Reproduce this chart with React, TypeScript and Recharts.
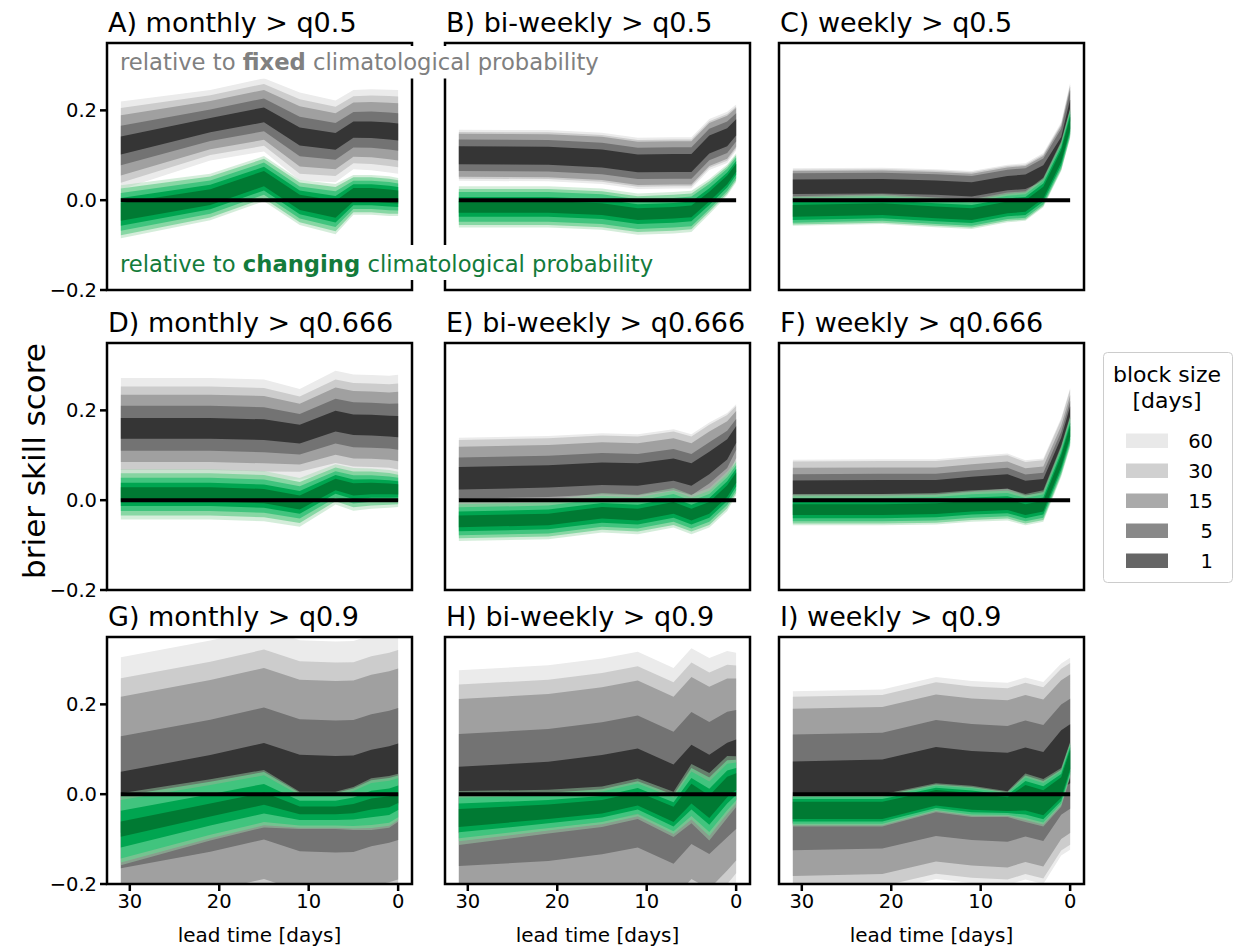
import React from 'react';
import { ComposedChart, Area, XAxis, YAxis, ReferenceLine } from 'recharts';

// lead times shared by all panels (days before the event)
const LEADS = [31, 21, 15, 11, 7, 5, 3, 1, 0];
const BLOCK_SIZES = [60, 30, 15, 5, 1];
const X_TICKS = [30, 20, 10, 0];
const Y_TICKS = [-0.2, 0, 0.2];

const GREY_FILLS = ['#ebebeb', '#cccccc', '#a0a0a0', '#737373', '#353535'];
const GREEN_FILLS = ['#9fd8ac', '#6fcf92', '#41c47e', '#00a550', '#007a33'];
const GREEN_OPACITY = [0.45, 0.75, 1, 1, 1];
const LEGEND_FILLS = ['#e9e9e9', '#d0d0d0', '#aaaaaa', '#898989', '#666666'];

const TITLES = [
  'A) monthly > q0.5', 'B) bi-weekly > q0.5', 'C) weekly > q0.5',
  'D) monthly > q0.666', 'E) bi-weekly > q0.666', 'F) weekly > q0.666',
  'G) monthly > q0.9', 'H) bi-weekly > q0.9', 'I) weekly > q0.9',
];

// centre of each band per lead, half widths per block size (60,30,15,5,1), and width factor per lead
const A_GREY_MID = [0.122, 0.167, 0.19, 0.142, 0.131, 0.157, 0.157, 0.154, 0.152];
const A_GREY_HALF = [0.098, 0.083, 0.067, 0.044, 0.02];
const A_GREY_SPREAD = [1, 0.8, 0.83, 1, 0.93, 0.9, 0.92, 0.94, 0.95];
const A_GREEN_MID = [-0.026, 0.007, 0.048, -0.005, -0.02, 0.012, 0.012, 0.009, 0.007];
const A_GREEN_HALF = [0.059, 0.052, 0.042, 0.031, 0.02];
const A_GREEN_SPREAD = [1, 0.88, 0.85, 0.85, 0.95, 0.75, 0.75, 0.75, 0.72];

const B_GREY_MID = [0.1, 0.099, 0.093, 0.082, 0.083, 0.083, 0.124, 0.14, 0.162];
const B_GREY_HALF = [0.057, 0.052, 0.048, 0.035, 0.02];
const B_GREY_SPREAD = [1, 1, 1, 1, 1, 1, 1, 1, 0.9];
const B_GREEN_MID = [-0.015, -0.015, -0.02, -0.031, -0.028, -0.025, 0.008, 0.045, 0.072];
const B_GREEN_HALF = [0.046, 0.04, 0.033, 0.022, 0.013];
const B_GREEN_SPREAD = [1, 1, 1, 1, 1, 1, 0.85, 0.75, 0.7];

const C_GREY_MID = [0.03, 0.031, 0.028, 0.024, 0.038, 0.041, 0.06, 0.12, 0.2];
const C_GREY_HALF = [0.041, 0.038, 0.035, 0.03, 0.016];
const C_GREY_SPREAD = [1, 1, 1, 1, 1, 1, 1.1, 1.3, 1.5];
const C_GREEN_MID = [-0.024, -0.02, -0.027, -0.031, -0.016, -0.013, 0.017, 0.098, 0.172];
const C_GREEN_HALF = [0.033, 0.03, 0.026, 0.02, 0.013];
const C_GREEN_SPREAD = [1, 1, 1, 1, 1, 1, 1, 1, 1];

const D_GREY_MID = [0.16, 0.16, 0.157, 0.147, 0.176, 0.168, 0.167, 0.165, 0.164];
const D_GREY_HALF = [0.112, 0.093, 0.075, 0.05, 0.023];
const D_GREY_SPREAD = [1, 1, 1, 0.9, 1, 1, 1, 1, 1.03];
const D_GREEN_MID = [0.013, 0.013, 0.009, -0.005, 0.035, 0.024, 0.026, 0.025, 0.024];
const D_GREEN_HALF = [0.056, 0.047, 0.037, 0.026, 0.016];
const D_GREEN_SPREAD = [1, 1, 1, 0.97, 0.8, 0.85, 0.8, 0.75, 0.7];

const E_GREY_MID = [0.049, 0.053, 0.059, 0.057, 0.068, 0.057, 0.083, 0.113, 0.146];
const E_GREY_HALF = [0.09, 0.085, 0.07, 0.046, 0.025];
const E_GREY_SPREAD = [1, 1, 1, 1, 1, 1, 1, 0.9, 0.75];
const E_GREEN_MID = [-0.047, -0.043, -0.028, -0.032, -0.017, -0.032, -0.017, 0.02, 0.05];
const E_GREEN_HALF = [0.044, 0.038, 0.031, 0.022, 0.013];
const E_GREEN_SPREAD = [1, 1, 1, 1, 1, 1, 1, 1, 0.9];

const F_GREY_MID = [0.028, 0.029, 0.029, 0.036, 0.042, 0.027, 0.031, 0.124, 0.194];
const F_GREY_HALF = [0.062, 0.058, 0.044, 0.03, 0.016];
const F_GREY_SPREAD = [1, 1, 1, 1, 1, 1, 1, 0.95, 0.9];
const F_GREEN_MID = [-0.021, -0.021, -0.019, -0.013, -0.01, -0.021, -0.013, 0.087, 0.153];
const F_GREEN_HALF = [0.035, 0.031, 0.026, 0.019, 0.012];
const F_GREEN_SPREAD = [1, 1, 1, 1, 1, 1, 1, 1, 1];

const G_GREY_MID = [-0.018, 0.019, 0.046, 0.02, 0.017, 0.018, 0.031, 0.039, 0.045];
const G_GREY_HALF = [0.323, 0.276, 0.235, 0.147, 0.068];
const G_GREY_SPREAD = [1, 1, 1, 1, 1, 1, 1, 1, 1];
const G_GREEN_MID = [-0.078, -0.035, -0.01, -0.036, -0.036, -0.032, -0.022, -0.017, -0.008];
const G_GREEN_HALF = [0.08, 0.074, 0.065, 0.041, 0.017];
const G_GREEN_SPREAD = [1, 0.85, 0.8, 0.52, 0.52, 0.6, 0.72, 0.72, 0.67];

const H_GREY_MID = [-0.013, -0.002, 0.013, 0.028, -0.008, 0.036, 0.014, 0.044, 0.055];
const H_GREY_HALF = [0.289, 0.257, 0.225, 0.147, 0.074];
const H_GREY_SPREAD = [1, 1, 1, 1, 1, 1, 1, 0.95, 0.9];
const H_GREEN_MID = [-0.053, -0.039, -0.028, -0.01, -0.045, 0.001, -0.028, 0.016, 0.028];
const H_GREEN_HALF = [0.06, 0.052, 0.045, 0.032, 0.02];
const H_GREEN_SPREAD = [1, 0.81, 0.75, 0.75, 0.84, 1.1, 1.25, 1.15, 0.94];

const I_GREY_MID = [0.004, 0.008, 0.036, 0.027, 0.023, 0.035, 0.025, 0.077, 0.09];
const I_GREY_HALF = [0.225, 0.213, 0.186, 0.129, 0.069];
const I_GREY_SPREAD = [1, 1, 1, 1, 1, 1, 1, 0.95, 0.95];
const I_GREEN_MID = [-0.036, -0.036, -0.008, -0.016, -0.022, -0.008, -0.019, 0.015, 0.077];
const I_GREEN_HALF = [0.036, 0.033, 0.03, 0.025, 0.019];
const I_GREEN_SPREAD = [1, 1, 0.9, 0.97, 0.8, 1.5, 1.47, 1.2, 1.1];

const PANELS = [
  { greyMid: A_GREY_MID, greyHalf: A_GREY_HALF, greySpread: A_GREY_SPREAD, greenMid: A_GREEN_MID, greenHalf: A_GREEN_HALF, greenSpread: A_GREEN_SPREAD },
  { greyMid: B_GREY_MID, greyHalf: B_GREY_HALF, greySpread: B_GREY_SPREAD, greenMid: B_GREEN_MID, greenHalf: B_GREEN_HALF, greenSpread: B_GREEN_SPREAD },
  { greyMid: C_GREY_MID, greyHalf: C_GREY_HALF, greySpread: C_GREY_SPREAD, greenMid: C_GREEN_MID, greenHalf: C_GREEN_HALF, greenSpread: C_GREEN_SPREAD },
  { greyMid: D_GREY_MID, greyHalf: D_GREY_HALF, greySpread: D_GREY_SPREAD, greenMid: D_GREEN_MID, greenHalf: D_GREEN_HALF, greenSpread: D_GREEN_SPREAD },
  { greyMid: E_GREY_MID, greyHalf: E_GREY_HALF, greySpread: E_GREY_SPREAD, greenMid: E_GREEN_MID, greenHalf: E_GREEN_HALF, greenSpread: E_GREEN_SPREAD },
  { greyMid: F_GREY_MID, greyHalf: F_GREY_HALF, greySpread: F_GREY_SPREAD, greenMid: F_GREEN_MID, greenHalf: F_GREEN_HALF, greenSpread: F_GREEN_SPREAD },
  { greyMid: G_GREY_MID, greyHalf: G_GREY_HALF, greySpread: G_GREY_SPREAD, greenMid: G_GREEN_MID, greenHalf: G_GREEN_HALF, greenSpread: G_GREEN_SPREAD },
  { greyMid: H_GREY_MID, greyHalf: H_GREY_HALF, greySpread: H_GREY_SPREAD, greenMid: H_GREEN_MID, greenHalf: H_GREEN_HALF, greenSpread: H_GREEN_SPREAD },
  { greyMid: I_GREY_MID, greyHalf: I_GREY_HALF, greySpread: I_GREY_SPREAD, greenMid: I_GREEN_MID, greenHalf: I_GREEN_HALF, greenSpread: I_GREEN_SPREAD },
];

// layout (px)
const COL_X = [107, 445, 779];
const ROW_Y = [43, 343, 637];
const PLOT_W = 305;
const PLOT_H = 247;
const Y_AXIS_W = 60;
const X_AXIS_H = 40;
const M_TOP = 4;
const M_RIGHT = 4;
const FONT = '"DejaVu Sans", sans-serif';

type PanelData = typeof PANELS[number];

function buildRows(p: PanelData) {
  return LEADS.map((lead, i) => {
    const row: Record<string, any> = { lead };
    BLOCK_SIZES.forEach((_, k) => {
      const gh = p.greyHalf[k] * p.greySpread[i];
      row['g' + k] = [p.greyMid[i] - gh, p.greyMid[i] + gh];
      const nh = p.greenHalf[k] * p.greenSpread[i];
      row['n' + k] = [p.greenMid[i] - nh, p.greenMid[i] + nh];
    });
    return row;
  });
}

const fmtY = (v: number) => v.toFixed(1).replace('-', '\u2212');
const tickStyle = { fill: '#000', fontSize: 19.5, fontFamily: FONT };
const tickLineStyle = { stroke: '#000', strokeWidth: 2.5 };

function Panel({ p, idx }: { p: PanelData; idx: number }) {
  const row = Math.floor(idx / 3);
  const col = idx % 3;
  const data = buildRows(p);
  return (
    <div style={{ position: 'absolute', left: COL_X[col] - Y_AXIS_W, top: ROW_Y[row] - M_TOP }}>
      <ComposedChart
        width={PLOT_W + Y_AXIS_W + M_RIGHT}
        height={PLOT_H + M_TOP + X_AXIS_H}
        data={data}
        margin={{ top: M_TOP, right: M_RIGHT, bottom: 0, left: 0 }}
      >
        <XAxis
          dataKey="lead"
          type="number"
          domain={[-1.55, 32.55]}
          reversed
          allowDataOverflow
          ticks={X_TICKS}
          interval={0}
          height={X_AXIS_H}
          axisLine={false}
          tickLine={tickLineStyle}
          tickSize={7}
          tickMargin={3}
          tick={row === 2 ? tickStyle : false}
        />
        <YAxis
          type="number"
          domain={[-0.2, 0.35]}
          allowDataOverflow
          ticks={Y_TICKS}
          interval={0}
          width={Y_AXIS_W}
          axisLine={false}
          tickLine={tickLineStyle}
          tickSize={7}
          tickMargin={3}
          tickFormatter={fmtY}
          tick={col === 0 ? tickStyle : false}
        />
        {BLOCK_SIZES.map((b, k) => (
          <Area
            key={'g' + b}
            type="linear"
            dataKey={'g' + k}
            stroke="none"
            fill={GREY_FILLS[k]}
            fillOpacity={1}
            dot={false}
            activeDot={false}
            isAnimationActive={false}
          />
        ))}
        {BLOCK_SIZES.map((b, k) => (
          <Area
            key={'n' + b}
            type="linear"
            dataKey={'n' + k}
            stroke="none"
            fill={GREEN_FILLS[k]}
            fillOpacity={GREEN_OPACITY[k]}
            dot={false}
            activeDot={false}
            isAnimationActive={false}
          />
        ))}
        <ReferenceLine
          segment={[{ x: LEADS[0], y: 0 }, { x: LEADS[LEADS.length - 1], y: 0 }]}
          stroke="#000"
          strokeWidth={4}
        />
      </ComposedChart>
    </div>
  );
}

export default function App() {
  return (
    <div style={{ position: 'absolute', left: 0, top: 0, width: 1241, height: 949, background: '#fff', fontFamily: FONT }}>
      {PANELS.map((p, i) => <Panel key={i} p={p} idx={i} />)}
      <svg width={1241} height={949} style={{ position: 'absolute', left: 0, top: 0, pointerEvents: 'none' }}>
        {PANELS.map((_, i) => (
          <rect
            key={'box' + i}
            x={COL_X[i % 3]}
            y={ROW_Y[Math.floor(i / 3)]}
            width={PLOT_W}
            height={PLOT_H}
            fill="none"
            stroke="#000"
            strokeWidth={2.5}
          />
        ))}
        {TITLES.map((t, i) => (
          <text key={t} x={COL_X[i % 3] + 1} y={ROW_Y[Math.floor(i / 3)] - 11} fontSize={27} fontFamily={FONT} fill="#000">
            {t}
          </text>
        ))}
        <rect x={117} y={46} width={486} height={32.5} fill="#fff" />
        <text x={120} y={70} fontSize={22.7} fontFamily={FONT} fill="#808080">
          relative to <tspan fontWeight="bold">fixed</tspan> climatological probability
        </text>
        <rect x={117} y={245} width={541} height={35} fill="#fff" />
        <text x={120} y={271.5} fontSize={22.7} fontFamily={FONT} fill="#137b3b">
          relative to <tspan fontWeight="bold">changing</tspan> climatological probability
        </text>
        <text
          x={45}
          y={461}
          fontSize={31}
          fontFamily={FONT}
          fill="#000"
          textAnchor="middle"
          transform="rotate(-90 45 461)"
        >
          brier skill score
        </text>
        {COL_X.map((x) => (
          <text key={'xl' + x} x={x + PLOT_W / 2} y={942} fontSize={20} fontFamily={FONT} fill="#000" textAnchor="middle">
            lead time [days]
          </text>
        ))}
        <rect x={1103.5} y={352.5} width={129} height={230} rx={4} fill="#fff" stroke="#cccccc" strokeWidth={1} />
        <text x={1167} y={382} fontSize={22} fontFamily={FONT} textAnchor="middle" fill="#000">block size</text>
        <text x={1167} y={408} fontSize={22} fontFamily={FONT} textAnchor="middle" fill="#000">[days]</text>
        {BLOCK_SIZES.map((b, k) => (
          <g key={'lg' + b}>
            <rect x={1126} y={433.5 + 30 * k} width={42} height={14.5} fill={LEGEND_FILLS[k]} />
            <text x={1213} y={447.5 + 30 * k} fontSize={19.5} fontFamily={FONT} textAnchor="end" fill="#000">
              {b}
            </text>
          </g>
        ))}
      </svg>
    </div>
  );
}
